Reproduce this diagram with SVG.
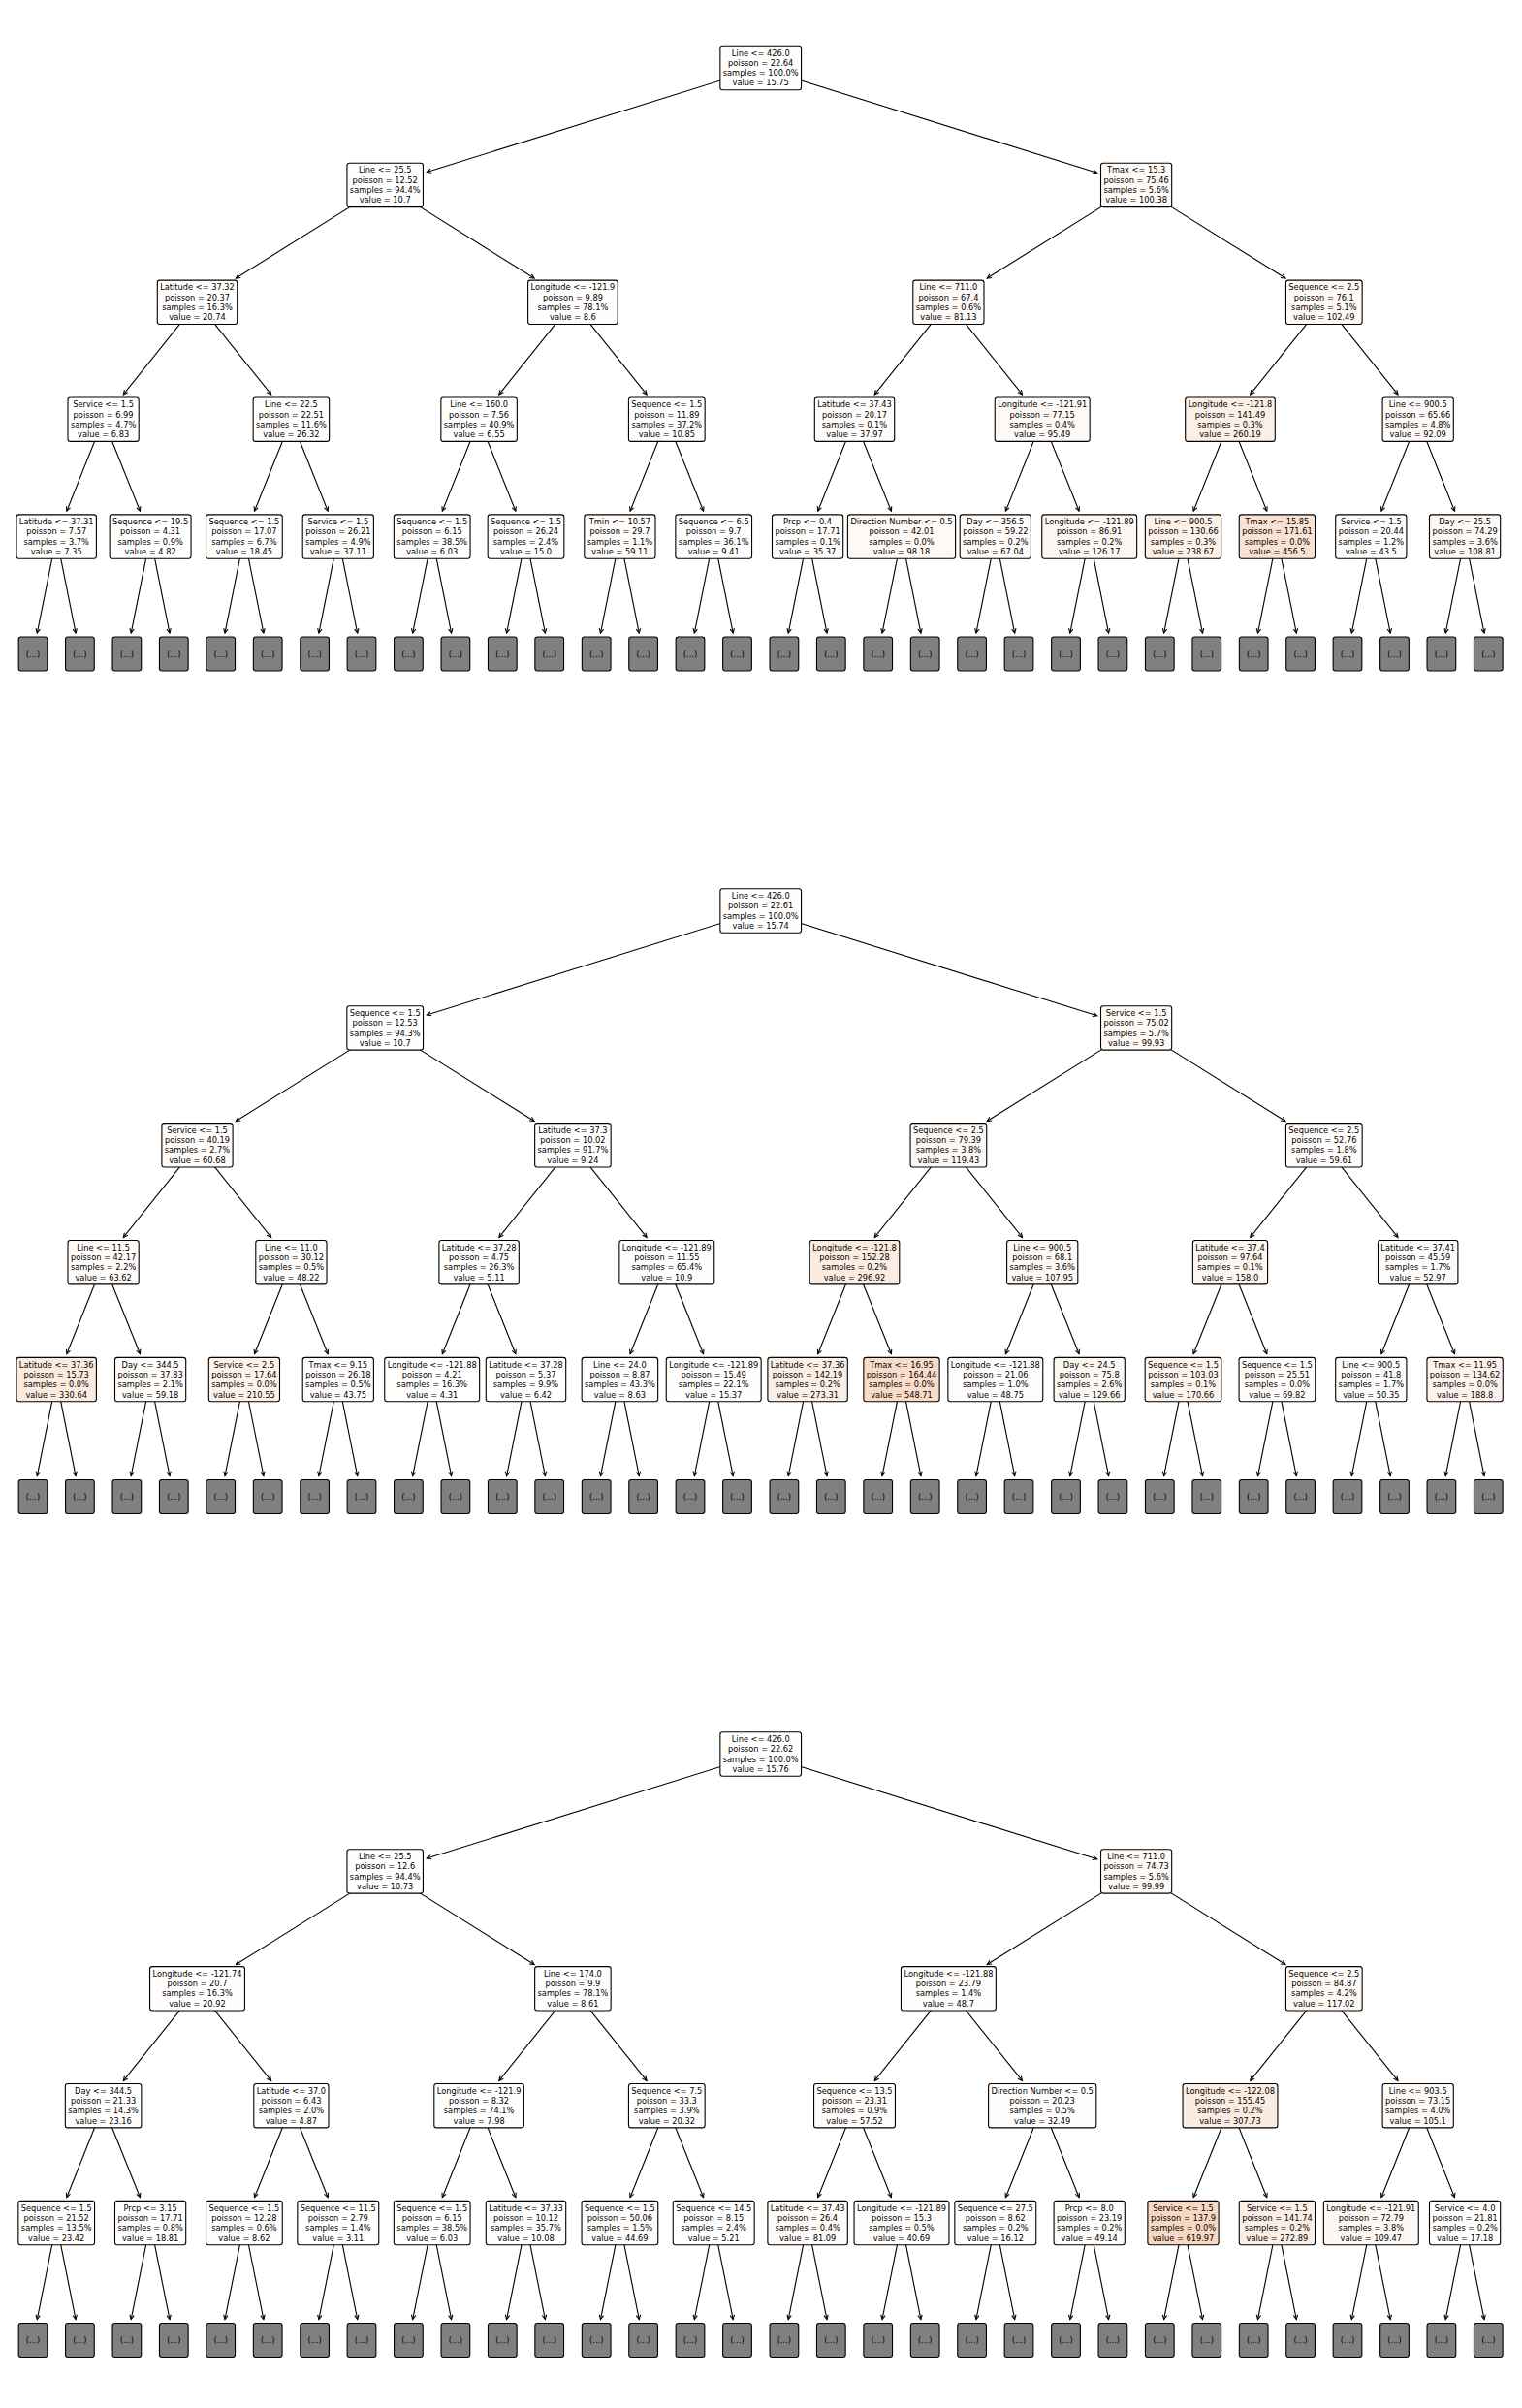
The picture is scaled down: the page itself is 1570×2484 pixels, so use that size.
<svg xmlns="http://www.w3.org/2000/svg" width="1570" height="2484" viewBox="0 0 1570 2484">
<style>
text{font-family:"DejaVu Sans","Liberation Sans",sans-serif;font-size:8.25px;text-anchor:middle;fill:#000}
.b{stroke:#000;stroke-width:1.1}
.lf{fill:#808080;stroke:#000;stroke-width:1.1}
.e path{fill:none;stroke:#000;stroke-width:1.1;marker-end:url(#ah)}
</style>
<defs>
<marker id="ah" viewBox="-6 -4 8 8" refX="0" refY="0" markerWidth="8" markerHeight="8" markerUnits="userSpaceOnUse" orient="auto"><path d="M-4.5,-2.2L0,0L-4.5,2.2" fill="none" stroke="#000" stroke-width="1.1"/></marker>
</defs>
<rect width="1570" height="2484" fill="#fff"/>
<g id="connectors" class="e">
<g id="edges1">
<path d="M784.7 70L440.3 177.5"/><path d="M784.7 70L1131.7 178.3"/>
<path d="M397.2 190.9L243.3 287"/><path d="M397.2 190.9L551.1 287"/><path d="M1172.1 190.9L1018.2 287"/><path d="M1172.1 190.9L1326 287"/>
<path d="M203.5 311.8L127.3 406.9"/><path d="M203.5 311.8L279.7 406.9"/><path d="M590.9 311.8L514.8 406.9"/><path d="M590.9 311.8L667.1 406.9"/><path d="M978.4 311.8L902.2 406.9"/><path d="M978.4 311.8L1054.5 406.9"/><path d="M1365.8 311.8L1289.7 406.9"/><path d="M1365.8 311.8L1442 406.9"/>
<path d="M106.6 432.7L68.8 527.2"/><path d="M106.6 432.7L144.5 527.2"/><path d="M300.4 432.7L262.5 527.2"/><path d="M300.4 432.7L338.2 527.2"/><path d="M494.1 432.7L456.3 527.2"/><path d="M494.1 432.7L531.9 527.2"/><path d="M687.8 432.7L650 527.2"/><path d="M687.8 432.7L725.6 527.2"/><path d="M881.5 432.7L843.7 527.2"/><path d="M881.5 432.7L919.4 527.2"/><path d="M1075.2 432.7L1037.4 527.2"/><path d="M1075.2 432.7L1113.1 527.2"/><path d="M1269 432.7L1231.1 527.2"/><path d="M1269 432.7L1306.8 527.2"/><path d="M1462.7 432.7L1424.9 527.2"/><path d="M1462.7 432.7L1500.5 527.2"/>
<path d="M58.2 553.6L38.3 653.1"/><path d="M58.2 553.6L78.1 653.1"/><path d="M155.1 553.6L135.2 653.1"/><path d="M155.1 553.6L175 653.1"/><path d="M251.9 553.6L232 653.1"/><path d="M251.9 553.6L271.9 653.1"/><path d="M348.8 553.6L328.9 653.1"/><path d="M348.8 553.6L368.7 653.1"/><path d="M445.7 553.6L425.7 653.1"/><path d="M445.7 553.6L465.6 653.1"/><path d="M542.5 553.6L522.6 653.1"/><path d="M542.5 553.6L562.4 653.1"/><path d="M639.4 553.6L619.5 653.1"/><path d="M639.4 553.6L659.3 653.1"/><path d="M736.2 553.6L716.3 653.1"/><path d="M736.2 553.6L756.2 653.1"/><path d="M833.1 553.6L813.2 653.1"/><path d="M833.1 553.6L853 653.1"/><path d="M930 553.6L910 653.1"/><path d="M930 553.6L949.9 653.1"/><path d="M1026.8 553.6L1006.9 653.1"/><path d="M1026.8 553.6L1046.7 653.1"/><path d="M1123.7 553.6L1103.8 653.1"/><path d="M1123.7 553.6L1143.6 653.1"/><path d="M1220.5 553.6L1200.6 653.1"/><path d="M1220.5 553.6L1240.5 653.1"/><path d="M1317.4 553.6L1297.5 653.1"/><path d="M1317.4 553.6L1337.3 653.1"/><path d="M1414.3 553.6L1394.3 653.1"/><path d="M1414.3 553.6L1434.2 653.1"/><path d="M1511.1 553.6L1491.2 653.1"/><path d="M1511.1 553.6L1531 653.1"/>
</g>
<g id="edges2" transform="translate(0,869.5)">
<path d="M784.7 70L440.3 177.5"/><path d="M784.7 70L1131.7 178.3"/>
<path d="M397.2 190.9L243.3 287"/><path d="M397.2 190.9L551.1 287"/><path d="M1172.1 190.9L1018.2 287"/><path d="M1172.1 190.9L1326 287"/>
<path d="M203.5 311.8L127.3 406.9"/><path d="M203.5 311.8L279.7 406.9"/><path d="M590.9 311.8L514.8 406.9"/><path d="M590.9 311.8L667.1 406.9"/><path d="M978.4 311.8L902.2 406.9"/><path d="M978.4 311.8L1054.5 406.9"/><path d="M1365.8 311.8L1289.7 406.9"/><path d="M1365.8 311.8L1442 406.9"/>
<path d="M106.6 432.7L68.8 527.2"/><path d="M106.6 432.7L144.5 527.2"/><path d="M300.4 432.7L262.5 527.2"/><path d="M300.4 432.7L338.2 527.2"/><path d="M494.1 432.7L456.3 527.2"/><path d="M494.1 432.7L531.9 527.2"/><path d="M687.8 432.7L650 527.2"/><path d="M687.8 432.7L725.6 527.2"/><path d="M881.5 432.7L843.7 527.2"/><path d="M881.5 432.7L919.4 527.2"/><path d="M1075.2 432.7L1037.4 527.2"/><path d="M1075.2 432.7L1113.1 527.2"/><path d="M1269 432.7L1231.1 527.2"/><path d="M1269 432.7L1306.8 527.2"/><path d="M1462.7 432.7L1424.9 527.2"/><path d="M1462.7 432.7L1500.5 527.2"/>
<path d="M58.2 553.6L38.3 653.1"/><path d="M58.2 553.6L78.1 653.1"/><path d="M155.1 553.6L135.2 653.1"/><path d="M155.1 553.6L175 653.1"/><path d="M251.9 553.6L232 653.1"/><path d="M251.9 553.6L271.9 653.1"/><path d="M348.8 553.6L328.9 653.1"/><path d="M348.8 553.6L368.7 653.1"/><path d="M445.7 553.6L425.7 653.1"/><path d="M445.7 553.6L465.6 653.1"/><path d="M542.5 553.6L522.6 653.1"/><path d="M542.5 553.6L562.4 653.1"/><path d="M639.4 553.6L619.5 653.1"/><path d="M639.4 553.6L659.3 653.1"/><path d="M736.2 553.6L716.3 653.1"/><path d="M736.2 553.6L756.2 653.1"/><path d="M833.1 553.6L813.2 653.1"/><path d="M833.1 553.6L853 653.1"/><path d="M930 553.6L910 653.1"/><path d="M930 553.6L949.9 653.1"/><path d="M1026.8 553.6L1006.9 653.1"/><path d="M1026.8 553.6L1046.7 653.1"/><path d="M1123.7 553.6L1103.8 653.1"/><path d="M1123.7 553.6L1143.6 653.1"/><path d="M1220.5 553.6L1200.6 653.1"/><path d="M1220.5 553.6L1240.5 653.1"/><path d="M1317.4 553.6L1297.5 653.1"/><path d="M1317.4 553.6L1337.3 653.1"/><path d="M1414.3 553.6L1394.3 653.1"/><path d="M1414.3 553.6L1434.2 653.1"/><path d="M1511.1 553.6L1491.2 653.1"/><path d="M1511.1 553.6L1531 653.1"/>
</g>
<g id="edges3" transform="translate(0,1739.5)">
<path d="M784.7 70L440.3 177.5"/><path d="M784.7 70L1131.7 178.3"/>
<path d="M397.2 190.9L243.3 287"/><path d="M397.2 190.9L551.1 287"/><path d="M1172.1 190.9L1018.2 287"/><path d="M1172.1 190.9L1326 287"/>
<path d="M203.5 311.8L127.3 406.9"/><path d="M203.5 311.8L279.7 406.9"/><path d="M590.9 311.8L514.8 406.9"/><path d="M590.9 311.8L667.1 406.9"/><path d="M978.4 311.8L902.2 406.9"/><path d="M978.4 311.8L1054.5 406.9"/><path d="M1365.8 311.8L1289.7 406.9"/><path d="M1365.8 311.8L1442 406.9"/>
<path d="M106.6 432.7L68.8 527.2"/><path d="M106.6 432.7L144.5 527.2"/><path d="M300.4 432.7L262.5 527.2"/><path d="M300.4 432.7L338.2 527.2"/><path d="M494.1 432.7L456.3 527.2"/><path d="M494.1 432.7L531.9 527.2"/><path d="M687.8 432.7L650 527.2"/><path d="M687.8 432.7L725.6 527.2"/><path d="M881.5 432.7L843.7 527.2"/><path d="M881.5 432.7L919.4 527.2"/><path d="M1075.2 432.7L1037.4 527.2"/><path d="M1075.2 432.7L1113.1 527.2"/><path d="M1269 432.7L1231.1 527.2"/><path d="M1269 432.7L1306.8 527.2"/><path d="M1462.7 432.7L1424.9 527.2"/><path d="M1462.7 432.7L1500.5 527.2"/>
<path d="M58.2 553.6L38.3 653.1"/><path d="M58.2 553.6L78.1 653.1"/><path d="M155.1 553.6L135.2 653.1"/><path d="M155.1 553.6L175 653.1"/><path d="M251.9 553.6L232 653.1"/><path d="M251.9 553.6L271.9 653.1"/><path d="M348.8 553.6L328.9 653.1"/><path d="M348.8 553.6L368.7 653.1"/><path d="M445.7 553.6L425.7 653.1"/><path d="M445.7 553.6L465.6 653.1"/><path d="M542.5 553.6L522.6 653.1"/><path d="M542.5 553.6L562.4 653.1"/><path d="M639.4 553.6L619.5 653.1"/><path d="M639.4 553.6L659.3 653.1"/><path d="M736.2 553.6L716.3 653.1"/><path d="M736.2 553.6L756.2 653.1"/><path d="M833.1 553.6L813.2 653.1"/><path d="M833.1 553.6L853 653.1"/><path d="M930 553.6L910 653.1"/><path d="M930 553.6L949.9 653.1"/><path d="M1026.8 553.6L1006.9 653.1"/><path d="M1026.8 553.6L1046.7 653.1"/><path d="M1123.7 553.6L1103.8 653.1"/><path d="M1123.7 553.6L1143.6 653.1"/><path d="M1220.5 553.6L1200.6 653.1"/><path d="M1220.5 553.6L1240.5 653.1"/><path d="M1317.4 553.6L1297.5 653.1"/><path d="M1317.4 553.6L1337.3 653.1"/><path d="M1414.3 553.6L1394.3 653.1"/><path d="M1414.3 553.6L1434.2 653.1"/><path d="M1511.1 553.6L1491.2 653.1"/><path d="M1511.1 553.6L1531 653.1"/>
</g>
</g>

<g id="tree1">
<g id="t1-n0" transform="translate(784.7,70)"><rect class="b" x="-41.85" y="-22.7" width="83.7" height="45.4" rx="2.5" fill="#fffefd"/><text y="-12.45"><tspan x="0">Line &lt;= 426.0</tspan><tspan x="0" dy="10.3">poisson = 22.64</tspan><tspan x="0" dy="10.3">samples = 100.0%</tspan><tspan x="0" dy="10.3">value = 15.75</tspan></text></g>
<g id="t1-n1" transform="translate(397.2,190.9)"><rect class="b" x="-39.25" y="-22.7" width="78.5" height="45.4" rx="2.5" fill="#fffefe"/><text y="-12.45"><tspan x="0">Line &lt;= 25.5</tspan><tspan x="0" dy="10.3">poisson = 12.52</tspan><tspan x="0" dy="10.3">samples = 94.4%</tspan><tspan x="0" dy="10.3">value = 10.7</tspan></text></g>
<g id="t1-n2" transform="translate(1172.1,190.9)"><rect class="b" x="-36.6" y="-22.7" width="73.2" height="45.4" rx="2.5" fill="#fef9f5"/><text y="-12.45"><tspan x="0">Tmax &lt;= 15.3</tspan><tspan x="0" dy="10.3">poisson = 75.46</tspan><tspan x="0" dy="10.3">samples = 5.6%</tspan><tspan x="0" dy="10.3">value = 100.38</tspan></text></g>
<g id="t1-n3" transform="translate(203.5,311.8)"><rect class="b" x="-41.2" y="-22.7" width="82.4" height="45.4" rx="2.5" fill="#fffefd"/><text y="-12.45"><tspan x="0">Latitude &lt;= 37.32</tspan><tspan x="0" dy="10.3">poisson = 20.37</tspan><tspan x="0" dy="10.3">samples = 16.3%</tspan><tspan x="0" dy="10.3">value = 20.74</tspan></text></g>
<g id="t1-n4" transform="translate(590.9,311.8)"><rect class="b" x="-46.3" y="-22.7" width="92.6" height="45.4" rx="2.5" fill="#fffefe"/><text y="-12.45"><tspan x="0">Longitude &lt;= -121.9</tspan><tspan x="0" dy="10.3">poisson = 9.89</tspan><tspan x="0" dy="10.3">samples = 78.1%</tspan><tspan x="0" dy="10.3">value = 8.6</tspan></text></g>
<g id="t1-n5" transform="translate(978.4,311.8)"><rect class="b" x="-36.6" y="-22.7" width="73.2" height="45.4" rx="2.5" fill="#fefaf7"/><text y="-12.45"><tspan x="0">Line &lt;= 711.0</tspan><tspan x="0" dy="10.3">poisson = 67.4</tspan><tspan x="0" dy="10.3">samples = 0.6%</tspan><tspan x="0" dy="10.3">value = 81.13</tspan></text></g>
<g id="t1-n6" transform="translate(1365.8,311.8)"><rect class="b" x="-39.35" y="-22.7" width="78.7" height="45.4" rx="2.5" fill="#fef9f5"/><text y="-12.45"><tspan x="0">Sequence &lt;= 2.5</tspan><tspan x="0" dy="10.3">poisson = 76.1</tspan><tspan x="0" dy="10.3">samples = 5.1%</tspan><tspan x="0" dy="10.3">value = 102.49</tspan></text></g>
<g id="t1-n7" transform="translate(106.6,432.7)"><rect class="b" x="-36.6" y="-22.7" width="73.2" height="45.4" rx="2.5" fill="#fffffe"/><text y="-12.45"><tspan x="0">Service &lt;= 1.5</tspan><tspan x="0" dy="10.3">poisson = 6.99</tspan><tspan x="0" dy="10.3">samples = 4.7%</tspan><tspan x="0" dy="10.3">value = 6.83</tspan></text></g>
<g id="t1-n8" transform="translate(300.4,432.7)"><rect class="b" x="-39.25" y="-22.7" width="78.5" height="45.4" rx="2.5" fill="#fffdfc"/><text y="-12.45"><tspan x="0">Line &lt;= 22.5</tspan><tspan x="0" dy="10.3">poisson = 22.51</tspan><tspan x="0" dy="10.3">samples = 11.6%</tspan><tspan x="0" dy="10.3">value = 26.32</tspan></text></g>
<g id="t1-n9" transform="translate(494.1,432.7)"><rect class="b" x="-39.25" y="-22.7" width="78.5" height="45.4" rx="2.5" fill="#fffffe"/><text y="-12.45"><tspan x="0">Line &lt;= 160.0</tspan><tspan x="0" dy="10.3">poisson = 7.56</tspan><tspan x="0" dy="10.3">samples = 40.9%</tspan><tspan x="0" dy="10.3">value = 6.55</tspan></text></g>
<g id="t1-n10" transform="translate(687.8,432.7)"><rect class="b" x="-39.35" y="-22.7" width="78.7" height="45.4" rx="2.5" fill="#fffefe"/><text y="-12.45"><tspan x="0">Sequence &lt;= 1.5</tspan><tspan x="0" dy="10.3">poisson = 11.89</tspan><tspan x="0" dy="10.3">samples = 37.2%</tspan><tspan x="0" dy="10.3">value = 10.85</tspan></text></g>
<g id="t1-n11" transform="translate(881.5,432.7)"><rect class="b" x="-41.2" y="-22.7" width="82.4" height="45.4" rx="2.5" fill="#fffdfb"/><text y="-12.45"><tspan x="0">Latitude &lt;= 37.43</tspan><tspan x="0" dy="10.3">poisson = 20.17</tspan><tspan x="0" dy="10.3">samples = 0.1%</tspan><tspan x="0" dy="10.3">value = 37.97</tspan></text></g>
<g id="t1-n12" transform="translate(1075.2,432.7)"><rect class="b" x="-48.95" y="-22.7" width="97.9" height="45.4" rx="2.5" fill="#fef9f6"/><text y="-12.45"><tspan x="0">Longitude &lt;= -121.91</tspan><tspan x="0" dy="10.3">poisson = 77.15</tspan><tspan x="0" dy="10.3">samples = 0.4%</tspan><tspan x="0" dy="10.3">value = 95.49</tspan></text></g>
<g id="t1-n13" transform="translate(1269,432.7)"><rect class="b" x="-46.3" y="-22.7" width="92.6" height="45.4" rx="2.5" fill="#fcefe5"/><text y="-12.45"><tspan x="0">Longitude &lt;= -121.8</tspan><tspan x="0" dy="10.3">poisson = 141.49</tspan><tspan x="0" dy="10.3">samples = 0.3%</tspan><tspan x="0" dy="10.3">value = 260.19</tspan></text></g>
<g id="t1-n14" transform="translate(1462.7,432.7)"><rect class="b" x="-36.6" y="-22.7" width="73.2" height="45.4" rx="2.5" fill="#fef9f6"/><text y="-12.45"><tspan x="0">Line &lt;= 900.5</tspan><tspan x="0" dy="10.3">poisson = 65.66</tspan><tspan x="0" dy="10.3">samples = 4.8%</tspan><tspan x="0" dy="10.3">value = 92.09</tspan></text></g>
<g id="t1-n15" transform="translate(58.2,553.6)"><rect class="b" x="-41.2" y="-22.7" width="82.4" height="45.4" rx="2.5" fill="#fffffe"/><text y="-12.45"><tspan x="0">Latitude &lt;= 37.31</tspan><tspan x="0" dy="10.3">poisson = 7.57</tspan><tspan x="0" dy="10.3">samples = 3.7%</tspan><tspan x="0" dy="10.3">value = 7.35</tspan></text></g>
<g id="t1-n16" transform="translate(155.1,553.6)"><rect class="b" x="-41.95" y="-22.7" width="83.9" height="45.4" rx="2.5" fill="#fffffe"/><text y="-12.45"><tspan x="0">Sequence &lt;= 19.5</tspan><tspan x="0" dy="10.3">poisson = 4.31</tspan><tspan x="0" dy="10.3">samples = 0.9%</tspan><tspan x="0" dy="10.3">value = 4.82</tspan></text></g>
<g id="t1-n17" transform="translate(251.9,553.6)"><rect class="b" x="-39.35" y="-22.7" width="78.7" height="45.4" rx="2.5" fill="#fffefd"/><text y="-12.45"><tspan x="0">Sequence &lt;= 1.5</tspan><tspan x="0" dy="10.3">poisson = 17.07</tspan><tspan x="0" dy="10.3">samples = 6.7%</tspan><tspan x="0" dy="10.3">value = 18.45</tspan></text></g>
<g id="t1-n18" transform="translate(348.8,553.6)"><rect class="b" x="-36.6" y="-22.7" width="73.2" height="45.4" rx="2.5" fill="#fffdfb"/><text y="-12.45"><tspan x="0">Service &lt;= 1.5</tspan><tspan x="0" dy="10.3">poisson = 26.21</tspan><tspan x="0" dy="10.3">samples = 4.9%</tspan><tspan x="0" dy="10.3">value = 37.11</tspan></text></g>
<g id="t1-n19" transform="translate(445.7,553.6)"><rect class="b" x="-39.35" y="-22.7" width="78.7" height="45.4" rx="2.5" fill="#fffffe"/><text y="-12.45"><tspan x="0">Sequence &lt;= 1.5</tspan><tspan x="0" dy="10.3">poisson = 6.15</tspan><tspan x="0" dy="10.3">samples = 38.5%</tspan><tspan x="0" dy="10.3">value = 6.03</tspan></text></g>
<g id="t1-n20" transform="translate(542.5,553.6)"><rect class="b" x="-39.35" y="-22.7" width="78.7" height="45.4" rx="2.5" fill="#fffefe"/><text y="-12.45"><tspan x="0">Sequence &lt;= 1.5</tspan><tspan x="0" dy="10.3">poisson = 26.24</tspan><tspan x="0" dy="10.3">samples = 2.4%</tspan><tspan x="0" dy="10.3">value = 15.0</tspan></text></g>
<g id="t1-n21" transform="translate(639.4,553.6)"><rect class="b" x="-36.6" y="-22.7" width="73.2" height="45.4" rx="2.5" fill="#fefbf9"/><text y="-12.45"><tspan x="0">Tmin &lt;= 10.57</tspan><tspan x="0" dy="10.3">poisson = 29.7</tspan><tspan x="0" dy="10.3">samples = 1.1%</tspan><tspan x="0" dy="10.3">value = 59.11</tspan></text></g>
<g id="t1-n22" transform="translate(736.2,553.6)"><rect class="b" x="-39.35" y="-22.7" width="78.7" height="45.4" rx="2.5" fill="#fffefe"/><text y="-12.45"><tspan x="0">Sequence &lt;= 6.5</tspan><tspan x="0" dy="10.3">poisson = 9.7</tspan><tspan x="0" dy="10.3">samples = 36.1%</tspan><tspan x="0" dy="10.3">value = 9.41</tspan></text></g>
<g id="t1-n23" transform="translate(833.1,553.6)"><rect class="b" x="-36.6" y="-22.7" width="73.2" height="45.4" rx="2.5" fill="#fffdfb"/><text y="-12.45"><tspan x="0">Prcp &lt;= 0.4</tspan><tspan x="0" dy="10.3">poisson = 17.71</tspan><tspan x="0" dy="10.3">samples = 0.1%</tspan><tspan x="0" dy="10.3">value = 35.37</tspan></text></g>
<g id="t1-n24" transform="translate(930,553.6)"><rect class="b" x="-55.6" y="-22.7" width="111.2" height="45.4" rx="2.5" fill="#fef9f5"/><text y="-12.45"><tspan x="0">Direction Number &lt;= 0.5</tspan><tspan x="0" dy="10.3">poisson = 42.01</tspan><tspan x="0" dy="10.3">samples = 0.0%</tspan><tspan x="0" dy="10.3">value = 98.18</tspan></text></g>
<g id="t1-n25" transform="translate(1026.8,553.6)"><rect class="b" x="-36.6" y="-22.7" width="73.2" height="45.4" rx="2.5" fill="#fefbf8"/><text y="-12.45"><tspan x="0">Day &lt;= 356.5</tspan><tspan x="0" dy="10.3">poisson = 59.22</tspan><tspan x="0" dy="10.3">samples = 0.2%</tspan><tspan x="0" dy="10.3">value = 67.04</tspan></text></g>
<g id="t1-n26" transform="translate(1123.7,553.6)"><rect class="b" x="-48.95" y="-22.7" width="97.9" height="45.4" rx="2.5" fill="#fdf7f3"/><text y="-12.45"><tspan x="0">Longitude &lt;= -121.89</tspan><tspan x="0" dy="10.3">poisson = 86.91</tspan><tspan x="0" dy="10.3">samples = 0.2%</tspan><tspan x="0" dy="10.3">value = 126.17</tspan></text></g>
<g id="t1-n27" transform="translate(1220.5,553.6)"><rect class="b" x="-39.15" y="-22.7" width="78.3" height="45.4" rx="2.5" fill="#fcf0e7"/><text y="-12.45"><tspan x="0">Line &lt;= 900.5</tspan><tspan x="0" dy="10.3">poisson = 130.66</tspan><tspan x="0" dy="10.3">samples = 0.3%</tspan><tspan x="0" dy="10.3">value = 238.67</tspan></text></g>
<g id="t1-n28" transform="translate(1317.4,553.6)"><rect class="b" x="-39.15" y="-22.7" width="78.3" height="45.4" rx="2.5" fill="#f9e2d2"/><text y="-12.45"><tspan x="0">Tmax &lt;= 15.85</tspan><tspan x="0" dy="10.3">poisson = 171.61</tspan><tspan x="0" dy="10.3">samples = 0.0%</tspan><tspan x="0" dy="10.3">value = 456.5</tspan></text></g>
<g id="t1-n29" transform="translate(1414.3,553.6)"><rect class="b" x="-36.6" y="-22.7" width="73.2" height="45.4" rx="2.5" fill="#fefcfb"/><text y="-12.45"><tspan x="0">Service &lt;= 1.5</tspan><tspan x="0" dy="10.3">poisson = 20.44</tspan><tspan x="0" dy="10.3">samples = 1.2%</tspan><tspan x="0" dy="10.3">value = 43.5</tspan></text></g>
<g id="t1-n30" transform="translate(1511.1,553.6)"><rect class="b" x="-36.6" y="-22.7" width="73.2" height="45.4" rx="2.5" fill="#fef8f4"/><text y="-12.45"><tspan x="0">Day &lt;= 25.5</tspan><tspan x="0" dy="10.3">poisson = 74.29</tspan><tspan x="0" dy="10.3">samples = 3.6%</tspan><tspan x="0" dy="10.3">value = 108.81</tspan></text></g>
<g id="t1-l0" transform="translate(34,674.5)"><rect class="lf" x="-14.85" y="-17.5" width="29.7" height="35" rx="2.5"/><text y="3">(...)</text></g>
<g id="t1-l1" transform="translate(82.4,674.5)"><rect class="lf" x="-14.85" y="-17.5" width="29.7" height="35" rx="2.5"/><text y="3">(...)</text></g>
<g id="t1-l2" transform="translate(130.9,674.5)"><rect class="lf" x="-14.85" y="-17.5" width="29.7" height="35" rx="2.5"/><text y="3">(...)</text></g>
<g id="t1-l3" transform="translate(179.3,674.5)"><rect class="lf" x="-14.85" y="-17.5" width="29.7" height="35" rx="2.5"/><text y="3">(...)</text></g>
<g id="t1-l4" transform="translate(227.7,674.5)"><rect class="lf" x="-14.85" y="-17.5" width="29.7" height="35" rx="2.5"/><text y="3">(...)</text></g>
<g id="t1-l5" transform="translate(276.2,674.5)"><rect class="lf" x="-14.85" y="-17.5" width="29.7" height="35" rx="2.5"/><text y="3">(...)</text></g>
<g id="t1-l6" transform="translate(324.6,674.5)"><rect class="lf" x="-14.85" y="-17.5" width="29.7" height="35" rx="2.5"/><text y="3">(...)</text></g>
<g id="t1-l7" transform="translate(373,674.5)"><rect class="lf" x="-14.85" y="-17.5" width="29.7" height="35" rx="2.5"/><text y="3">(...)</text></g>
<g id="t1-l8" transform="translate(421.4,674.5)"><rect class="lf" x="-14.85" y="-17.5" width="29.7" height="35" rx="2.5"/><text y="3">(...)</text></g>
<g id="t1-l9" transform="translate(469.9,674.5)"><rect class="lf" x="-14.85" y="-17.5" width="29.7" height="35" rx="2.5"/><text y="3">(...)</text></g>
<g id="t1-l10" transform="translate(518.3,674.5)"><rect class="lf" x="-14.85" y="-17.5" width="29.7" height="35" rx="2.5"/><text y="3">(...)</text></g>
<g id="t1-l11" transform="translate(566.7,674.5)"><rect class="lf" x="-14.85" y="-17.5" width="29.7" height="35" rx="2.5"/><text y="3">(...)</text></g>
<g id="t1-l12" transform="translate(615.2,674.5)"><rect class="lf" x="-14.85" y="-17.5" width="29.7" height="35" rx="2.5"/><text y="3">(...)</text></g>
<g id="t1-l13" transform="translate(663.6,674.5)"><rect class="lf" x="-14.85" y="-17.5" width="29.7" height="35" rx="2.5"/><text y="3">(...)</text></g>
<g id="t1-l14" transform="translate(712,674.5)"><rect class="lf" x="-14.85" y="-17.5" width="29.7" height="35" rx="2.5"/><text y="3">(...)</text></g>
<g id="t1-l15" transform="translate(760.5,674.5)"><rect class="lf" x="-14.85" y="-17.5" width="29.7" height="35" rx="2.5"/><text y="3">(...)</text></g>
<g id="t1-l16" transform="translate(808.9,674.5)"><rect class="lf" x="-14.85" y="-17.5" width="29.7" height="35" rx="2.5"/><text y="3">(...)</text></g>
<g id="t1-l17" transform="translate(857.3,674.5)"><rect class="lf" x="-14.85" y="-17.5" width="29.7" height="35" rx="2.5"/><text y="3">(...)</text></g>
<g id="t1-l18" transform="translate(905.7,674.5)"><rect class="lf" x="-14.85" y="-17.5" width="29.7" height="35" rx="2.5"/><text y="3">(...)</text></g>
<g id="t1-l19" transform="translate(954.2,674.5)"><rect class="lf" x="-14.85" y="-17.5" width="29.7" height="35" rx="2.5"/><text y="3">(...)</text></g>
<g id="t1-l20" transform="translate(1002.6,674.5)"><rect class="lf" x="-14.85" y="-17.5" width="29.7" height="35" rx="2.5"/><text y="3">(...)</text></g>
<g id="t1-l21" transform="translate(1051,674.5)"><rect class="lf" x="-14.85" y="-17.5" width="29.7" height="35" rx="2.5"/><text y="3">(...)</text></g>
<g id="t1-l22" transform="translate(1099.5,674.5)"><rect class="lf" x="-14.85" y="-17.5" width="29.7" height="35" rx="2.5"/><text y="3">(...)</text></g>
<g id="t1-l23" transform="translate(1147.9,674.5)"><rect class="lf" x="-14.85" y="-17.5" width="29.7" height="35" rx="2.5"/><text y="3">(...)</text></g>
<g id="t1-l24" transform="translate(1196.3,674.5)"><rect class="lf" x="-14.85" y="-17.5" width="29.7" height="35" rx="2.5"/><text y="3">(...)</text></g>
<g id="t1-l25" transform="translate(1244.8,674.5)"><rect class="lf" x="-14.85" y="-17.5" width="29.7" height="35" rx="2.5"/><text y="3">(...)</text></g>
<g id="t1-l26" transform="translate(1293.2,674.5)"><rect class="lf" x="-14.85" y="-17.5" width="29.7" height="35" rx="2.5"/><text y="3">(...)</text></g>
<g id="t1-l27" transform="translate(1341.6,674.5)"><rect class="lf" x="-14.85" y="-17.5" width="29.7" height="35" rx="2.5"/><text y="3">(...)</text></g>
<g id="t1-l28" transform="translate(1390,674.5)"><rect class="lf" x="-14.85" y="-17.5" width="29.7" height="35" rx="2.5"/><text y="3">(...)</text></g>
<g id="t1-l29" transform="translate(1438.5,674.5)"><rect class="lf" x="-14.85" y="-17.5" width="29.7" height="35" rx="2.5"/><text y="3">(...)</text></g>
<g id="t1-l30" transform="translate(1486.9,674.5)"><rect class="lf" x="-14.85" y="-17.5" width="29.7" height="35" rx="2.5"/><text y="3">(...)</text></g>
<g id="t1-l31" transform="translate(1535.3,674.5)"><rect class="lf" x="-14.85" y="-17.5" width="29.7" height="35" rx="2.5"/><text y="3">(...)</text></g>
</g>

<g id="tree2" transform="translate(0,869.5)">
<g id="t2-n0" transform="translate(784.7,70)"><rect class="b" x="-41.85" y="-22.7" width="83.7" height="45.4" rx="2.5" fill="#fffefd"/><text y="-12.45"><tspan x="0">Line &lt;= 426.0</tspan><tspan x="0" dy="10.3">poisson = 22.61</tspan><tspan x="0" dy="10.3">samples = 100.0%</tspan><tspan x="0" dy="10.3">value = 15.74</tspan></text></g>
<g id="t2-n1" transform="translate(397.2,190.9)"><rect class="b" x="-39.35" y="-22.7" width="78.7" height="45.4" rx="2.5" fill="#fffefe"/><text y="-12.45"><tspan x="0">Sequence &lt;= 1.5</tspan><tspan x="0" dy="10.3">poisson = 12.53</tspan><tspan x="0" dy="10.3">samples = 94.3%</tspan><tspan x="0" dy="10.3">value = 10.7</tspan></text></g>
<g id="t2-n2" transform="translate(1172.1,190.9)"><rect class="b" x="-36.6" y="-22.7" width="73.2" height="45.4" rx="2.5" fill="#fef9f5"/><text y="-12.45"><tspan x="0">Service &lt;= 1.5</tspan><tspan x="0" dy="10.3">poisson = 75.02</tspan><tspan x="0" dy="10.3">samples = 5.7%</tspan><tspan x="0" dy="10.3">value = 99.93</tspan></text></g>
<g id="t2-n3" transform="translate(203.5,311.8)"><rect class="b" x="-36.6" y="-22.7" width="73.2" height="45.4" rx="2.5" fill="#fefbf9"/><text y="-12.45"><tspan x="0">Service &lt;= 1.5</tspan><tspan x="0" dy="10.3">poisson = 40.19</tspan><tspan x="0" dy="10.3">samples = 2.7%</tspan><tspan x="0" dy="10.3">value = 60.68</tspan></text></g>
<g id="t2-n4" transform="translate(590.9,311.8)"><rect class="b" x="-39.25" y="-22.7" width="78.5" height="45.4" rx="2.5" fill="#fffefe"/><text y="-12.45"><tspan x="0">Latitude &lt;= 37.3</tspan><tspan x="0" dy="10.3">poisson = 10.02</tspan><tspan x="0" dy="10.3">samples = 91.7%</tspan><tspan x="0" dy="10.3">value = 9.24</tspan></text></g>
<g id="t2-n5" transform="translate(978.4,311.8)"><rect class="b" x="-39.35" y="-22.7" width="78.7" height="45.4" rx="2.5" fill="#fdf7f3"/><text y="-12.45"><tspan x="0">Sequence &lt;= 2.5</tspan><tspan x="0" dy="10.3">poisson = 79.39</tspan><tspan x="0" dy="10.3">samples = 3.8%</tspan><tspan x="0" dy="10.3">value = 119.43</tspan></text></g>
<g id="t2-n6" transform="translate(1365.8,311.8)"><rect class="b" x="-39.35" y="-22.7" width="78.7" height="45.4" rx="2.5" fill="#fefbf9"/><text y="-12.45"><tspan x="0">Sequence &lt;= 2.5</tspan><tspan x="0" dy="10.3">poisson = 52.76</tspan><tspan x="0" dy="10.3">samples = 1.8%</tspan><tspan x="0" dy="10.3">value = 59.61</tspan></text></g>
<g id="t2-n7" transform="translate(106.6,432.7)"><rect class="b" x="-36.6" y="-22.7" width="73.2" height="45.4" rx="2.5" fill="#fefbf9"/><text y="-12.45"><tspan x="0">Line &lt;= 11.5</tspan><tspan x="0" dy="10.3">poisson = 42.17</tspan><tspan x="0" dy="10.3">samples = 2.2%</tspan><tspan x="0" dy="10.3">value = 63.62</tspan></text></g>
<g id="t2-n8" transform="translate(300.4,432.7)"><rect class="b" x="-36.6" y="-22.7" width="73.2" height="45.4" rx="2.5" fill="#fefcfa"/><text y="-12.45"><tspan x="0">Line &lt;= 11.0</tspan><tspan x="0" dy="10.3">poisson = 30.12</tspan><tspan x="0" dy="10.3">samples = 0.5%</tspan><tspan x="0" dy="10.3">value = 48.22</tspan></text></g>
<g id="t2-n9" transform="translate(494.1,432.7)"><rect class="b" x="-41.2" y="-22.7" width="82.4" height="45.4" rx="2.5" fill="#fffffe"/><text y="-12.45"><tspan x="0">Latitude &lt;= 37.28</tspan><tspan x="0" dy="10.3">poisson = 4.75</tspan><tspan x="0" dy="10.3">samples = 26.3%</tspan><tspan x="0" dy="10.3">value = 5.11</tspan></text></g>
<g id="t2-n10" transform="translate(687.8,432.7)"><rect class="b" x="-48.95" y="-22.7" width="97.9" height="45.4" rx="2.5" fill="#fffefe"/><text y="-12.45"><tspan x="0">Longitude &lt;= -121.89</tspan><tspan x="0" dy="10.3">poisson = 11.55</tspan><tspan x="0" dy="10.3">samples = 65.4%</tspan><tspan x="0" dy="10.3">value = 10.9</tspan></text></g>
<g id="t2-n11" transform="translate(881.5,432.7)"><rect class="b" x="-46.3" y="-22.7" width="92.6" height="45.4" rx="2.5" fill="#fbece2"/><text y="-12.45"><tspan x="0">Longitude &lt;= -121.8</tspan><tspan x="0" dy="10.3">poisson = 152.28</tspan><tspan x="0" dy="10.3">samples = 0.2%</tspan><tspan x="0" dy="10.3">value = 296.92</tspan></text></g>
<g id="t2-n12" transform="translate(1075.2,432.7)"><rect class="b" x="-36.6" y="-22.7" width="73.2" height="45.4" rx="2.5" fill="#fef8f4"/><text y="-12.45"><tspan x="0">Line &lt;= 900.5</tspan><tspan x="0" dy="10.3">poisson = 68.1</tspan><tspan x="0" dy="10.3">samples = 3.6%</tspan><tspan x="0" dy="10.3">value = 107.95</tspan></text></g>
<g id="t2-n13" transform="translate(1269,432.7)"><rect class="b" x="-38.6" y="-22.7" width="77.2" height="45.4" rx="2.5" fill="#fdf5ef"/><text y="-12.45"><tspan x="0">Latitude &lt;= 37.4</tspan><tspan x="0" dy="10.3">poisson = 97.64</tspan><tspan x="0" dy="10.3">samples = 0.1%</tspan><tspan x="0" dy="10.3">value = 158.0</tspan></text></g>
<g id="t2-n14" transform="translate(1462.7,432.7)"><rect class="b" x="-41.2" y="-22.7" width="82.4" height="45.4" rx="2.5" fill="#fefcfa"/><text y="-12.45"><tspan x="0">Latitude &lt;= 37.41</tspan><tspan x="0" dy="10.3">poisson = 45.59</tspan><tspan x="0" dy="10.3">samples = 1.7%</tspan><tspan x="0" dy="10.3">value = 52.97</tspan></text></g>
<g id="t2-n15" transform="translate(58.2,553.6)"><rect class="b" x="-41.2" y="-22.7" width="82.4" height="45.4" rx="2.5" fill="#fbeade"/><text y="-12.45"><tspan x="0">Latitude &lt;= 37.36</tspan><tspan x="0" dy="10.3">poisson = 15.73</tspan><tspan x="0" dy="10.3">samples = 0.0%</tspan><tspan x="0" dy="10.3">value = 330.64</tspan></text></g>
<g id="t2-n16" transform="translate(155.1,553.6)"><rect class="b" x="-36.6" y="-22.7" width="73.2" height="45.4" rx="2.5" fill="#fefbf9"/><text y="-12.45"><tspan x="0">Day &lt;= 344.5</tspan><tspan x="0" dy="10.3">poisson = 37.83</tspan><tspan x="0" dy="10.3">samples = 2.1%</tspan><tspan x="0" dy="10.3">value = 59.18</tspan></text></g>
<g id="t2-n17" transform="translate(251.9,553.6)"><rect class="b" x="-36.6" y="-22.7" width="73.2" height="45.4" rx="2.5" fill="#fcf2ea"/><text y="-12.45"><tspan x="0">Service &lt;= 2.5</tspan><tspan x="0" dy="10.3">poisson = 17.64</tspan><tspan x="0" dy="10.3">samples = 0.0%</tspan><tspan x="0" dy="10.3">value = 210.55</tspan></text></g>
<g id="t2-n18" transform="translate(348.8,553.6)"><rect class="b" x="-36.6" y="-22.7" width="73.2" height="45.4" rx="2.5" fill="#fefcfb"/><text y="-12.45"><tspan x="0">Tmax &lt;= 9.15</tspan><tspan x="0" dy="10.3">poisson = 26.18</tspan><tspan x="0" dy="10.3">samples = 0.5%</tspan><tspan x="0" dy="10.3">value = 43.75</tspan></text></g>
<g id="t2-n19" transform="translate(445.7,553.6)"><rect class="b" x="-48.95" y="-22.7" width="97.9" height="45.4" rx="2.5" fill="#fffffe"/><text y="-12.45"><tspan x="0">Longitude &lt;= -121.88</tspan><tspan x="0" dy="10.3">poisson = 4.21</tspan><tspan x="0" dy="10.3">samples = 16.3%</tspan><tspan x="0" dy="10.3">value = 4.31</tspan></text></g>
<g id="t2-n20" transform="translate(542.5,553.6)"><rect class="b" x="-41.2" y="-22.7" width="82.4" height="45.4" rx="2.5" fill="#fffffe"/><text y="-12.45"><tspan x="0">Latitude &lt;= 37.28</tspan><tspan x="0" dy="10.3">poisson = 5.37</tspan><tspan x="0" dy="10.3">samples = 9.9%</tspan><tspan x="0" dy="10.3">value = 6.42</tspan></text></g>
<g id="t2-n21" transform="translate(639.4,553.6)"><rect class="b" x="-39.25" y="-22.7" width="78.5" height="45.4" rx="2.5" fill="#fffefe"/><text y="-12.45"><tspan x="0">Line &lt;= 24.0</tspan><tspan x="0" dy="10.3">poisson = 8.87</tspan><tspan x="0" dy="10.3">samples = 43.3%</tspan><tspan x="0" dy="10.3">value = 8.63</tspan></text></g>
<g id="t2-n22" transform="translate(736.2,553.6)"><rect class="b" x="-48.95" y="-22.7" width="97.9" height="45.4" rx="2.5" fill="#fffefd"/><text y="-12.45"><tspan x="0">Longitude &lt;= -121.89</tspan><tspan x="0" dy="10.3">poisson = 15.49</tspan><tspan x="0" dy="10.3">samples = 22.1%</tspan><tspan x="0" dy="10.3">value = 15.37</tspan></text></g>
<g id="t2-n23" transform="translate(833.1,553.6)"><rect class="b" x="-41.2" y="-22.7" width="82.4" height="45.4" rx="2.5" fill="#fbeee4"/><text y="-12.45"><tspan x="0">Latitude &lt;= 37.36</tspan><tspan x="0" dy="10.3">poisson = 142.19</tspan><tspan x="0" dy="10.3">samples = 0.2%</tspan><tspan x="0" dy="10.3">value = 273.31</tspan></text></g>
<g id="t2-n24" transform="translate(930,553.6)"><rect class="b" x="-39.15" y="-22.7" width="78.3" height="45.4" rx="2.5" fill="#f8dcc9"/><text y="-12.45"><tspan x="0">Tmax &lt;= 16.95</tspan><tspan x="0" dy="10.3">poisson = 164.44</tspan><tspan x="0" dy="10.3">samples = 0.0%</tspan><tspan x="0" dy="10.3">value = 548.71</tspan></text></g>
<g id="t2-n25" transform="translate(1026.8,553.6)"><rect class="b" x="-48.95" y="-22.7" width="97.9" height="45.4" rx="2.5" fill="#fefcfa"/><text y="-12.45"><tspan x="0">Longitude &lt;= -121.88</tspan><tspan x="0" dy="10.3">poisson = 21.06</tspan><tspan x="0" dy="10.3">samples = 1.0%</tspan><tspan x="0" dy="10.3">value = 48.75</tspan></text></g>
<g id="t2-n26" transform="translate(1123.7,553.6)"><rect class="b" x="-36.6" y="-22.7" width="73.2" height="45.4" rx="2.5" fill="#fdf7f2"/><text y="-12.45"><tspan x="0">Day &lt;= 24.5</tspan><tspan x="0" dy="10.3">poisson = 75.8</tspan><tspan x="0" dy="10.3">samples = 2.6%</tspan><tspan x="0" dy="10.3">value = 129.66</tspan></text></g>
<g id="t2-n27" transform="translate(1220.5,553.6)"><rect class="b" x="-39.35" y="-22.7" width="78.7" height="45.4" rx="2.5" fill="#fdf4ee"/><text y="-12.45"><tspan x="0">Sequence &lt;= 1.5</tspan><tspan x="0" dy="10.3">poisson = 103.03</tspan><tspan x="0" dy="10.3">samples = 0.1%</tspan><tspan x="0" dy="10.3">value = 170.66</tspan></text></g>
<g id="t2-n28" transform="translate(1317.4,553.6)"><rect class="b" x="-39.35" y="-22.7" width="78.7" height="45.4" rx="2.5" fill="#fefbf8"/><text y="-12.45"><tspan x="0">Sequence &lt;= 1.5</tspan><tspan x="0" dy="10.3">poisson = 25.51</tspan><tspan x="0" dy="10.3">samples = 0.0%</tspan><tspan x="0" dy="10.3">value = 69.82</tspan></text></g>
<g id="t2-n29" transform="translate(1414.3,553.6)"><rect class="b" x="-36.6" y="-22.7" width="73.2" height="45.4" rx="2.5" fill="#fefcfa"/><text y="-12.45"><tspan x="0">Line &lt;= 900.5</tspan><tspan x="0" dy="10.3">poisson = 41.8</tspan><tspan x="0" dy="10.3">samples = 1.7%</tspan><tspan x="0" dy="10.3">value = 50.35</tspan></text></g>
<g id="t2-n30" transform="translate(1511.1,553.6)"><rect class="b" x="-39.15" y="-22.7" width="78.3" height="45.4" rx="2.5" fill="#fdf3ec"/><text y="-12.45"><tspan x="0">Tmax &lt;= 11.95</tspan><tspan x="0" dy="10.3">poisson = 134.62</tspan><tspan x="0" dy="10.3">samples = 0.0%</tspan><tspan x="0" dy="10.3">value = 188.8</tspan></text></g>
<g id="t2-l0" transform="translate(34,674.5)"><rect class="lf" x="-14.85" y="-17.5" width="29.7" height="35" rx="2.5"/><text y="3">(...)</text></g>
<g id="t2-l1" transform="translate(82.4,674.5)"><rect class="lf" x="-14.85" y="-17.5" width="29.7" height="35" rx="2.5"/><text y="3">(...)</text></g>
<g id="t2-l2" transform="translate(130.9,674.5)"><rect class="lf" x="-14.85" y="-17.5" width="29.7" height="35" rx="2.5"/><text y="3">(...)</text></g>
<g id="t2-l3" transform="translate(179.3,674.5)"><rect class="lf" x="-14.85" y="-17.5" width="29.7" height="35" rx="2.5"/><text y="3">(...)</text></g>
<g id="t2-l4" transform="translate(227.7,674.5)"><rect class="lf" x="-14.85" y="-17.5" width="29.7" height="35" rx="2.5"/><text y="3">(...)</text></g>
<g id="t2-l5" transform="translate(276.2,674.5)"><rect class="lf" x="-14.85" y="-17.5" width="29.7" height="35" rx="2.5"/><text y="3">(...)</text></g>
<g id="t2-l6" transform="translate(324.6,674.5)"><rect class="lf" x="-14.85" y="-17.5" width="29.7" height="35" rx="2.5"/><text y="3">(...)</text></g>
<g id="t2-l7" transform="translate(373,674.5)"><rect class="lf" x="-14.85" y="-17.5" width="29.7" height="35" rx="2.5"/><text y="3">(...)</text></g>
<g id="t2-l8" transform="translate(421.4,674.5)"><rect class="lf" x="-14.85" y="-17.5" width="29.7" height="35" rx="2.5"/><text y="3">(...)</text></g>
<g id="t2-l9" transform="translate(469.9,674.5)"><rect class="lf" x="-14.85" y="-17.5" width="29.7" height="35" rx="2.5"/><text y="3">(...)</text></g>
<g id="t2-l10" transform="translate(518.3,674.5)"><rect class="lf" x="-14.85" y="-17.5" width="29.7" height="35" rx="2.5"/><text y="3">(...)</text></g>
<g id="t2-l11" transform="translate(566.7,674.5)"><rect class="lf" x="-14.85" y="-17.5" width="29.7" height="35" rx="2.5"/><text y="3">(...)</text></g>
<g id="t2-l12" transform="translate(615.2,674.5)"><rect class="lf" x="-14.85" y="-17.5" width="29.7" height="35" rx="2.5"/><text y="3">(...)</text></g>
<g id="t2-l13" transform="translate(663.6,674.5)"><rect class="lf" x="-14.85" y="-17.5" width="29.7" height="35" rx="2.5"/><text y="3">(...)</text></g>
<g id="t2-l14" transform="translate(712,674.5)"><rect class="lf" x="-14.85" y="-17.5" width="29.7" height="35" rx="2.5"/><text y="3">(...)</text></g>
<g id="t2-l15" transform="translate(760.5,674.5)"><rect class="lf" x="-14.85" y="-17.5" width="29.7" height="35" rx="2.5"/><text y="3">(...)</text></g>
<g id="t2-l16" transform="translate(808.9,674.5)"><rect class="lf" x="-14.85" y="-17.5" width="29.7" height="35" rx="2.5"/><text y="3">(...)</text></g>
<g id="t2-l17" transform="translate(857.3,674.5)"><rect class="lf" x="-14.85" y="-17.5" width="29.7" height="35" rx="2.5"/><text y="3">(...)</text></g>
<g id="t2-l18" transform="translate(905.7,674.5)"><rect class="lf" x="-14.85" y="-17.5" width="29.7" height="35" rx="2.5"/><text y="3">(...)</text></g>
<g id="t2-l19" transform="translate(954.2,674.5)"><rect class="lf" x="-14.85" y="-17.5" width="29.7" height="35" rx="2.5"/><text y="3">(...)</text></g>
<g id="t2-l20" transform="translate(1002.6,674.5)"><rect class="lf" x="-14.85" y="-17.5" width="29.7" height="35" rx="2.5"/><text y="3">(...)</text></g>
<g id="t2-l21" transform="translate(1051,674.5)"><rect class="lf" x="-14.85" y="-17.5" width="29.7" height="35" rx="2.5"/><text y="3">(...)</text></g>
<g id="t2-l22" transform="translate(1099.5,674.5)"><rect class="lf" x="-14.85" y="-17.5" width="29.7" height="35" rx="2.5"/><text y="3">(...)</text></g>
<g id="t2-l23" transform="translate(1147.9,674.5)"><rect class="lf" x="-14.85" y="-17.5" width="29.7" height="35" rx="2.5"/><text y="3">(...)</text></g>
<g id="t2-l24" transform="translate(1196.3,674.5)"><rect class="lf" x="-14.85" y="-17.5" width="29.7" height="35" rx="2.5"/><text y="3">(...)</text></g>
<g id="t2-l25" transform="translate(1244.8,674.5)"><rect class="lf" x="-14.85" y="-17.5" width="29.7" height="35" rx="2.5"/><text y="3">(...)</text></g>
<g id="t2-l26" transform="translate(1293.2,674.5)"><rect class="lf" x="-14.85" y="-17.5" width="29.7" height="35" rx="2.5"/><text y="3">(...)</text></g>
<g id="t2-l27" transform="translate(1341.6,674.5)"><rect class="lf" x="-14.85" y="-17.5" width="29.7" height="35" rx="2.5"/><text y="3">(...)</text></g>
<g id="t2-l28" transform="translate(1390,674.5)"><rect class="lf" x="-14.85" y="-17.5" width="29.7" height="35" rx="2.5"/><text y="3">(...)</text></g>
<g id="t2-l29" transform="translate(1438.5,674.5)"><rect class="lf" x="-14.85" y="-17.5" width="29.7" height="35" rx="2.5"/><text y="3">(...)</text></g>
<g id="t2-l30" transform="translate(1486.9,674.5)"><rect class="lf" x="-14.85" y="-17.5" width="29.7" height="35" rx="2.5"/><text y="3">(...)</text></g>
<g id="t2-l31" transform="translate(1535.3,674.5)"><rect class="lf" x="-14.85" y="-17.5" width="29.7" height="35" rx="2.5"/><text y="3">(...)</text></g>
</g>

<g id="tree3" transform="translate(0,1739.5)">
<g id="t3-n0" transform="translate(784.7,70)"><rect class="b" x="-41.85" y="-22.7" width="83.7" height="45.4" rx="2.5" fill="#fffefd"/><text y="-12.45"><tspan x="0">Line &lt;= 426.0</tspan><tspan x="0" dy="10.3">poisson = 22.62</tspan><tspan x="0" dy="10.3">samples = 100.0%</tspan><tspan x="0" dy="10.3">value = 15.76</tspan></text></g>
<g id="t3-n1" transform="translate(397.2,190.9)"><rect class="b" x="-39.25" y="-22.7" width="78.5" height="45.4" rx="2.5" fill="#fffefe"/><text y="-12.45"><tspan x="0">Line &lt;= 25.5</tspan><tspan x="0" dy="10.3">poisson = 12.6</tspan><tspan x="0" dy="10.3">samples = 94.4%</tspan><tspan x="0" dy="10.3">value = 10.73</tspan></text></g>
<g id="t3-n2" transform="translate(1172.1,190.9)"><rect class="b" x="-36.6" y="-22.7" width="73.2" height="45.4" rx="2.5" fill="#fef9f5"/><text y="-12.45"><tspan x="0">Line &lt;= 711.0</tspan><tspan x="0" dy="10.3">poisson = 74.73</tspan><tspan x="0" dy="10.3">samples = 5.6%</tspan><tspan x="0" dy="10.3">value = 99.99</tspan></text></g>
<g id="t3-n3" transform="translate(203.5,311.8)"><rect class="b" x="-48.95" y="-22.7" width="97.9" height="45.4" rx="2.5" fill="#fffefd"/><text y="-12.45"><tspan x="0">Longitude &lt;= -121.74</tspan><tspan x="0" dy="10.3">poisson = 20.7</tspan><tspan x="0" dy="10.3">samples = 16.3%</tspan><tspan x="0" dy="10.3">value = 20.92</tspan></text></g>
<g id="t3-n4" transform="translate(590.9,311.8)"><rect class="b" x="-39.25" y="-22.7" width="78.5" height="45.4" rx="2.5" fill="#fffefe"/><text y="-12.45"><tspan x="0">Line &lt;= 174.0</tspan><tspan x="0" dy="10.3">poisson = 9.9</tspan><tspan x="0" dy="10.3">samples = 78.1%</tspan><tspan x="0" dy="10.3">value = 8.61</tspan></text></g>
<g id="t3-n5" transform="translate(978.4,311.8)"><rect class="b" x="-48.95" y="-22.7" width="97.9" height="45.4" rx="2.5" fill="#fefcfa"/><text y="-12.45"><tspan x="0">Longitude &lt;= -121.88</tspan><tspan x="0" dy="10.3">poisson = 23.79</tspan><tspan x="0" dy="10.3">samples = 1.4%</tspan><tspan x="0" dy="10.3">value = 48.7</tspan></text></g>
<g id="t3-n6" transform="translate(1365.8,311.8)"><rect class="b" x="-39.35" y="-22.7" width="78.7" height="45.4" rx="2.5" fill="#fdf8f3"/><text y="-12.45"><tspan x="0">Sequence &lt;= 2.5</tspan><tspan x="0" dy="10.3">poisson = 84.87</tspan><tspan x="0" dy="10.3">samples = 4.2%</tspan><tspan x="0" dy="10.3">value = 117.02</tspan></text></g>
<g id="t3-n7" transform="translate(106.6,432.7)"><rect class="b" x="-39.25" y="-22.7" width="78.5" height="45.4" rx="2.5" fill="#fffefd"/><text y="-12.45"><tspan x="0">Day &lt;= 344.5</tspan><tspan x="0" dy="10.3">poisson = 21.33</tspan><tspan x="0" dy="10.3">samples = 14.3%</tspan><tspan x="0" dy="10.3">value = 23.16</tspan></text></g>
<g id="t3-n8" transform="translate(300.4,432.7)"><rect class="b" x="-38.6" y="-22.7" width="77.2" height="45.4" rx="2.5" fill="#fffffe"/><text y="-12.45"><tspan x="0">Latitude &lt;= 37.0</tspan><tspan x="0" dy="10.3">poisson = 6.43</tspan><tspan x="0" dy="10.3">samples = 2.0%</tspan><tspan x="0" dy="10.3">value = 4.87</tspan></text></g>
<g id="t3-n9" transform="translate(494.1,432.7)"><rect class="b" x="-46.3" y="-22.7" width="92.6" height="45.4" rx="2.5" fill="#fffefe"/><text y="-12.45"><tspan x="0">Longitude &lt;= -121.9</tspan><tspan x="0" dy="10.3">poisson = 8.32</tspan><tspan x="0" dy="10.3">samples = 74.1%</tspan><tspan x="0" dy="10.3">value = 7.98</tspan></text></g>
<g id="t3-n10" transform="translate(687.8,432.7)"><rect class="b" x="-39.35" y="-22.7" width="78.7" height="45.4" rx="2.5" fill="#fffefd"/><text y="-12.45"><tspan x="0">Sequence &lt;= 7.5</tspan><tspan x="0" dy="10.3">poisson = 33.3</tspan><tspan x="0" dy="10.3">samples = 3.9%</tspan><tspan x="0" dy="10.3">value = 20.32</tspan></text></g>
<g id="t3-n11" transform="translate(881.5,432.7)"><rect class="b" x="-41.95" y="-22.7" width="83.9" height="45.4" rx="2.5" fill="#fefbf9"/><text y="-12.45"><tspan x="0">Sequence &lt;= 13.5</tspan><tspan x="0" dy="10.3">poisson = 23.31</tspan><tspan x="0" dy="10.3">samples = 0.9%</tspan><tspan x="0" dy="10.3">value = 57.52</tspan></text></g>
<g id="t3-n12" transform="translate(1075.2,432.7)"><rect class="b" x="-55.6" y="-22.7" width="111.2" height="45.4" rx="2.5" fill="#fffdfc"/><text y="-12.45"><tspan x="0">Direction Number &lt;= 0.5</tspan><tspan x="0" dy="10.3">poisson = 20.23</tspan><tspan x="0" dy="10.3">samples = 0.5%</tspan><tspan x="0" dy="10.3">value = 32.49</tspan></text></g>
<g id="t3-n13" transform="translate(1269,432.7)"><rect class="b" x="-48.95" y="-22.7" width="97.9" height="45.4" rx="2.5" fill="#fbece1"/><text y="-12.45"><tspan x="0">Longitude &lt;= -122.08</tspan><tspan x="0" dy="10.3">poisson = 155.45</tspan><tspan x="0" dy="10.3">samples = 0.2%</tspan><tspan x="0" dy="10.3">value = 307.73</tspan></text></g>
<g id="t3-n14" transform="translate(1462.7,432.7)"><rect class="b" x="-36.6" y="-22.7" width="73.2" height="45.4" rx="2.5" fill="#fef8f5"/><text y="-12.45"><tspan x="0">Line &lt;= 903.5</tspan><tspan x="0" dy="10.3">poisson = 73.15</tspan><tspan x="0" dy="10.3">samples = 4.0%</tspan><tspan x="0" dy="10.3">value = 105.1</tspan></text></g>
<g id="t3-n15" transform="translate(58.2,553.6)"><rect class="b" x="-39.35" y="-22.7" width="78.7" height="45.4" rx="2.5" fill="#fffefd"/><text y="-12.45"><tspan x="0">Sequence &lt;= 1.5</tspan><tspan x="0" dy="10.3">poisson = 21.52</tspan><tspan x="0" dy="10.3">samples = 13.5%</tspan><tspan x="0" dy="10.3">value = 23.42</tspan></text></g>
<g id="t3-n16" transform="translate(155.1,553.6)"><rect class="b" x="-36.6" y="-22.7" width="73.2" height="45.4" rx="2.5" fill="#fffefd"/><text y="-12.45"><tspan x="0">Prcp &lt;= 3.15</tspan><tspan x="0" dy="10.3">poisson = 17.71</tspan><tspan x="0" dy="10.3">samples = 0.8%</tspan><tspan x="0" dy="10.3">value = 18.81</tspan></text></g>
<g id="t3-n17" transform="translate(251.9,553.6)"><rect class="b" x="-39.35" y="-22.7" width="78.7" height="45.4" rx="2.5" fill="#fffefe"/><text y="-12.45"><tspan x="0">Sequence &lt;= 1.5</tspan><tspan x="0" dy="10.3">poisson = 12.28</tspan><tspan x="0" dy="10.3">samples = 0.6%</tspan><tspan x="0" dy="10.3">value = 8.62</tspan></text></g>
<g id="t3-n18" transform="translate(348.8,553.6)"><rect class="b" x="-41.95" y="-22.7" width="83.9" height="45.4" rx="2.5" fill="#fffffe"/><text y="-12.45"><tspan x="0">Sequence &lt;= 11.5</tspan><tspan x="0" dy="10.3">poisson = 2.79</tspan><tspan x="0" dy="10.3">samples = 1.4%</tspan><tspan x="0" dy="10.3">value = 3.11</tspan></text></g>
<g id="t3-n19" transform="translate(445.7,553.6)"><rect class="b" x="-39.35" y="-22.7" width="78.7" height="45.4" rx="2.5" fill="#fffffe"/><text y="-12.45"><tspan x="0">Sequence &lt;= 1.5</tspan><tspan x="0" dy="10.3">poisson = 6.15</tspan><tspan x="0" dy="10.3">samples = 38.5%</tspan><tspan x="0" dy="10.3">value = 6.03</tspan></text></g>
<g id="t3-n20" transform="translate(542.5,553.6)"><rect class="b" x="-41.2" y="-22.7" width="82.4" height="45.4" rx="2.5" fill="#fffefe"/><text y="-12.45"><tspan x="0">Latitude &lt;= 37.33</tspan><tspan x="0" dy="10.3">poisson = 10.12</tspan><tspan x="0" dy="10.3">samples = 35.7%</tspan><tspan x="0" dy="10.3">value = 10.08</tspan></text></g>
<g id="t3-n21" transform="translate(639.4,553.6)"><rect class="b" x="-39.35" y="-22.7" width="78.7" height="45.4" rx="2.5" fill="#fefcfb"/><text y="-12.45"><tspan x="0">Sequence &lt;= 1.5</tspan><tspan x="0" dy="10.3">poisson = 50.06</tspan><tspan x="0" dy="10.3">samples = 1.5%</tspan><tspan x="0" dy="10.3">value = 44.69</tspan></text></g>
<g id="t3-n22" transform="translate(736.2,553.6)"><rect class="b" x="-41.95" y="-22.7" width="83.9" height="45.4" rx="2.5" fill="#fffffe"/><text y="-12.45"><tspan x="0">Sequence &lt;= 14.5</tspan><tspan x="0" dy="10.3">poisson = 8.15</tspan><tspan x="0" dy="10.3">samples = 2.4%</tspan><tspan x="0" dy="10.3">value = 5.21</tspan></text></g>
<g id="t3-n23" transform="translate(833.1,553.6)"><rect class="b" x="-41.2" y="-22.7" width="82.4" height="45.4" rx="2.5" fill="#fefaf7"/><text y="-12.45"><tspan x="0">Latitude &lt;= 37.43</tspan><tspan x="0" dy="10.3">poisson = 26.4</tspan><tspan x="0" dy="10.3">samples = 0.4%</tspan><tspan x="0" dy="10.3">value = 81.09</tspan></text></g>
<g id="t3-n24" transform="translate(930,553.6)"><rect class="b" x="-48.95" y="-22.7" width="97.9" height="45.4" rx="2.5" fill="#fefcfb"/><text y="-12.45"><tspan x="0">Longitude &lt;= -121.89</tspan><tspan x="0" dy="10.3">poisson = 15.3</tspan><tspan x="0" dy="10.3">samples = 0.5%</tspan><tspan x="0" dy="10.3">value = 40.69</tspan></text></g>
<g id="t3-n25" transform="translate(1026.8,553.6)"><rect class="b" x="-41.95" y="-22.7" width="83.9" height="45.4" rx="2.5" fill="#fffefd"/><text y="-12.45"><tspan x="0">Sequence &lt;= 27.5</tspan><tspan x="0" dy="10.3">poisson = 8.62</tspan><tspan x="0" dy="10.3">samples = 0.2%</tspan><tspan x="0" dy="10.3">value = 16.12</tspan></text></g>
<g id="t3-n26" transform="translate(1123.7,553.6)"><rect class="b" x="-36.6" y="-22.7" width="73.2" height="45.4" rx="2.5" fill="#fefcfa"/><text y="-12.45"><tspan x="0">Prcp &lt;= 8.0</tspan><tspan x="0" dy="10.3">poisson = 23.19</tspan><tspan x="0" dy="10.3">samples = 0.2%</tspan><tspan x="0" dy="10.3">value = 49.14</tspan></text></g>
<g id="t3-n27" transform="translate(1220.5,553.6)"><rect class="b" x="-36.6" y="-22.7" width="73.2" height="45.4" rx="2.5" fill="#f7d8c2"/><text y="-12.45"><tspan x="0">Service &lt;= 1.5</tspan><tspan x="0" dy="10.3">poisson = 137.9</tspan><tspan x="0" dy="10.3">samples = 0.0%</tspan><tspan x="0" dy="10.3">value = 619.97</tspan></text></g>
<g id="t3-n28" transform="translate(1317.4,553.6)"><rect class="b" x="-39.15" y="-22.7" width="78.3" height="45.4" rx="2.5" fill="#fbeee4"/><text y="-12.45"><tspan x="0">Service &lt;= 1.5</tspan><tspan x="0" dy="10.3">poisson = 141.74</tspan><tspan x="0" dy="10.3">samples = 0.2%</tspan><tspan x="0" dy="10.3">value = 272.89</tspan></text></g>
<g id="t3-n29" transform="translate(1414.3,553.6)"><rect class="b" x="-48.95" y="-22.7" width="97.9" height="45.4" rx="2.5" fill="#fef8f4"/><text y="-12.45"><tspan x="0">Longitude &lt;= -121.91</tspan><tspan x="0" dy="10.3">poisson = 72.79</tspan><tspan x="0" dy="10.3">samples = 3.8%</tspan><tspan x="0" dy="10.3">value = 109.47</tspan></text></g>
<g id="t3-n30" transform="translate(1511.1,553.6)"><rect class="b" x="-36.6" y="-22.7" width="73.2" height="45.4" rx="2.5" fill="#fffefd"/><text y="-12.45"><tspan x="0">Service &lt;= 4.0</tspan><tspan x="0" dy="10.3">poisson = 21.81</tspan><tspan x="0" dy="10.3">samples = 0.2%</tspan><tspan x="0" dy="10.3">value = 17.18</tspan></text></g>
<g id="t3-l0" transform="translate(34,674.5)"><rect class="lf" x="-14.85" y="-17.5" width="29.7" height="35" rx="2.5"/><text y="3">(...)</text></g>
<g id="t3-l1" transform="translate(82.4,674.5)"><rect class="lf" x="-14.85" y="-17.5" width="29.7" height="35" rx="2.5"/><text y="3">(...)</text></g>
<g id="t3-l2" transform="translate(130.9,674.5)"><rect class="lf" x="-14.85" y="-17.5" width="29.7" height="35" rx="2.5"/><text y="3">(...)</text></g>
<g id="t3-l3" transform="translate(179.3,674.5)"><rect class="lf" x="-14.85" y="-17.5" width="29.7" height="35" rx="2.5"/><text y="3">(...)</text></g>
<g id="t3-l4" transform="translate(227.7,674.5)"><rect class="lf" x="-14.85" y="-17.5" width="29.7" height="35" rx="2.5"/><text y="3">(...)</text></g>
<g id="t3-l5" transform="translate(276.2,674.5)"><rect class="lf" x="-14.85" y="-17.5" width="29.7" height="35" rx="2.5"/><text y="3">(...)</text></g>
<g id="t3-l6" transform="translate(324.6,674.5)"><rect class="lf" x="-14.85" y="-17.5" width="29.7" height="35" rx="2.5"/><text y="3">(...)</text></g>
<g id="t3-l7" transform="translate(373,674.5)"><rect class="lf" x="-14.85" y="-17.5" width="29.7" height="35" rx="2.5"/><text y="3">(...)</text></g>
<g id="t3-l8" transform="translate(421.4,674.5)"><rect class="lf" x="-14.85" y="-17.5" width="29.7" height="35" rx="2.5"/><text y="3">(...)</text></g>
<g id="t3-l9" transform="translate(469.9,674.5)"><rect class="lf" x="-14.85" y="-17.5" width="29.7" height="35" rx="2.5"/><text y="3">(...)</text></g>
<g id="t3-l10" transform="translate(518.3,674.5)"><rect class="lf" x="-14.85" y="-17.5" width="29.7" height="35" rx="2.5"/><text y="3">(...)</text></g>
<g id="t3-l11" transform="translate(566.7,674.5)"><rect class="lf" x="-14.85" y="-17.5" width="29.7" height="35" rx="2.5"/><text y="3">(...)</text></g>
<g id="t3-l12" transform="translate(615.2,674.5)"><rect class="lf" x="-14.85" y="-17.5" width="29.7" height="35" rx="2.5"/><text y="3">(...)</text></g>
<g id="t3-l13" transform="translate(663.6,674.5)"><rect class="lf" x="-14.85" y="-17.5" width="29.7" height="35" rx="2.5"/><text y="3">(...)</text></g>
<g id="t3-l14" transform="translate(712,674.5)"><rect class="lf" x="-14.85" y="-17.5" width="29.7" height="35" rx="2.5"/><text y="3">(...)</text></g>
<g id="t3-l15" transform="translate(760.5,674.5)"><rect class="lf" x="-14.85" y="-17.5" width="29.7" height="35" rx="2.5"/><text y="3">(...)</text></g>
<g id="t3-l16" transform="translate(808.9,674.5)"><rect class="lf" x="-14.85" y="-17.5" width="29.7" height="35" rx="2.5"/><text y="3">(...)</text></g>
<g id="t3-l17" transform="translate(857.3,674.5)"><rect class="lf" x="-14.85" y="-17.5" width="29.7" height="35" rx="2.5"/><text y="3">(...)</text></g>
<g id="t3-l18" transform="translate(905.7,674.5)"><rect class="lf" x="-14.85" y="-17.5" width="29.7" height="35" rx="2.5"/><text y="3">(...)</text></g>
<g id="t3-l19" transform="translate(954.2,674.5)"><rect class="lf" x="-14.85" y="-17.5" width="29.7" height="35" rx="2.5"/><text y="3">(...)</text></g>
<g id="t3-l20" transform="translate(1002.6,674.5)"><rect class="lf" x="-14.85" y="-17.5" width="29.7" height="35" rx="2.5"/><text y="3">(...)</text></g>
<g id="t3-l21" transform="translate(1051,674.5)"><rect class="lf" x="-14.85" y="-17.5" width="29.7" height="35" rx="2.5"/><text y="3">(...)</text></g>
<g id="t3-l22" transform="translate(1099.5,674.5)"><rect class="lf" x="-14.85" y="-17.5" width="29.7" height="35" rx="2.5"/><text y="3">(...)</text></g>
<g id="t3-l23" transform="translate(1147.9,674.5)"><rect class="lf" x="-14.85" y="-17.5" width="29.7" height="35" rx="2.5"/><text y="3">(...)</text></g>
<g id="t3-l24" transform="translate(1196.3,674.5)"><rect class="lf" x="-14.85" y="-17.5" width="29.7" height="35" rx="2.5"/><text y="3">(...)</text></g>
<g id="t3-l25" transform="translate(1244.8,674.5)"><rect class="lf" x="-14.85" y="-17.5" width="29.7" height="35" rx="2.5"/><text y="3">(...)</text></g>
<g id="t3-l26" transform="translate(1293.2,674.5)"><rect class="lf" x="-14.85" y="-17.5" width="29.7" height="35" rx="2.5"/><text y="3">(...)</text></g>
<g id="t3-l27" transform="translate(1341.6,674.5)"><rect class="lf" x="-14.85" y="-17.5" width="29.7" height="35" rx="2.5"/><text y="3">(...)</text></g>
<g id="t3-l28" transform="translate(1390,674.5)"><rect class="lf" x="-14.85" y="-17.5" width="29.7" height="35" rx="2.5"/><text y="3">(...)</text></g>
<g id="t3-l29" transform="translate(1438.5,674.5)"><rect class="lf" x="-14.85" y="-17.5" width="29.7" height="35" rx="2.5"/><text y="3">(...)</text></g>
<g id="t3-l30" transform="translate(1486.9,674.5)"><rect class="lf" x="-14.85" y="-17.5" width="29.7" height="35" rx="2.5"/><text y="3">(...)</text></g>
<g id="t3-l31" transform="translate(1535.3,674.5)"><rect class="lf" x="-14.85" y="-17.5" width="29.7" height="35" rx="2.5"/><text y="3">(...)</text></g>
</g>
</svg>
